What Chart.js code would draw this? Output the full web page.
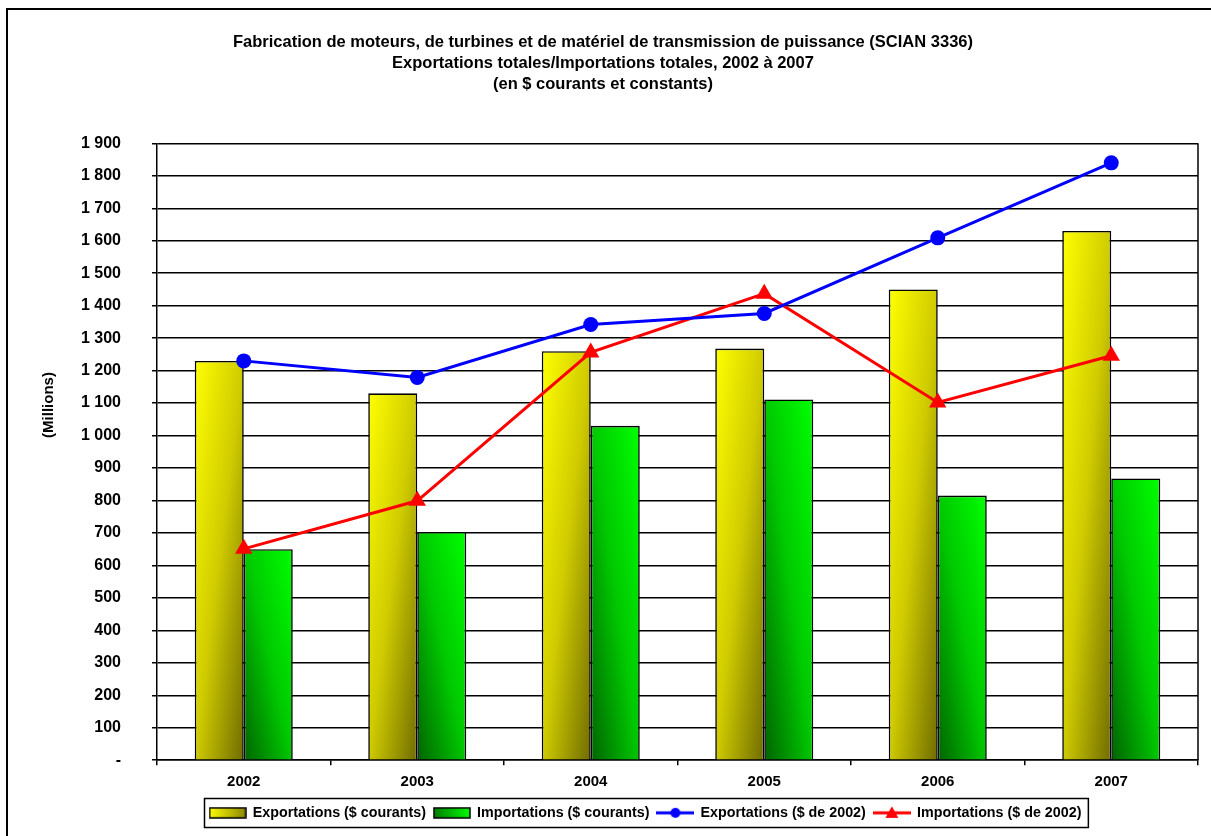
<!DOCTYPE html>
<html>
<head>
<meta charset="utf-8">
<script src="https://cdn.jsdelivr.net/npm/chart.js@4.4.1/dist/chart.umd.min.js"></script>
<style>
  html, body { margin: 0; padding: 0; background: #fff; }
  #wrap { width: 1211px; height: 836px; }
</style>
</head>
<body>
<div id="wrap"><canvas id="myChart" width="1211" height="836"></canvas></div>
<script>
// values (millions of dollars)
const years = ["2002", "2003", "2004", "2005", "2006", "2007"];
const exportsCurrent = [1230, 1130, 1260, 1268, 1450, 1630];
const importsCurrent = [650, 703, 1030, 1111, 815, 868];
const exportsConstant = [1230, 1179, 1342, 1376, 1609, 1840];
const importsConstant = [651, 799, 1256, 1437, 1102, 1246];

const seriesNames = [
  "Exportations ($ courants)",
  "Importations ($ courants)",
  "Exportations ($ de 2002)",
  "Importations ($ de 2002)"
];
const titleLines = [
  "Fabrication de moteurs, de turbines et de matériel de transmission de puissance (SCIAN 3336)",
  "Exportations totales/Importations totales, 2002 à 2007",
  "(en $ courants et constants)"
];
const yTitle = "(Millions)";
const yMax = 1900;
const yStep = 100;

const FONT = "'Liberation Sans', Arial, sans-serif";
const ctx = document.getElementById("myChart").getContext("2d");

// small canvases used as legend symbols
function barSwatch(c0, c1) {
  const c = document.createElement("canvas");
  c.width = 38; c.height = 12;
  const x = c.getContext("2d");
  const g = x.createLinearGradient(0, 0, 38, 0);
  g.addColorStop(0, c0);
  g.addColorStop(1, c1);
  x.fillStyle = g;
  x.fillRect(1, 1, 36, 10);
  x.strokeStyle = "#000";
  x.lineWidth = 1.5;
  x.strokeRect(1, 1, 36, 10);
  return c;
}
function lineSwatch(color, marker) {
  const c = document.createElement("canvas");
  c.width = 38; c.height = 14;
  const x = c.getContext("2d");
  x.strokeStyle = color;
  x.fillStyle = color;
  x.lineWidth = 3;
  x.beginPath(); x.moveTo(0, 7); x.lineTo(38, 7); x.stroke();
  x.beginPath();
  if (marker === "circle") {
    x.arc(19, 7, 5, 0, Math.PI * 2);
  } else {
    x.moveTo(19, 0.5); x.lineTo(25.5, 12); x.lineTo(12.5, 12); x.closePath();
  }
  x.fill();
  return c;
}
const swatches = [
  barSwatch("#ffff00", "#8a8600"),
  barSwatch("#007a00", "#00ff00"),
  lineSwatch("#0000ff", "circle"),
  lineSwatch("#ff0000", "triangle")
];

// Excel-like diagonal shading on each bar
const barShading = {
  id: "barShading",
  beforeDatasetsDraw(chart) {
    const c = chart.ctx;
    chart.data.datasets.forEach((ds, i) => {
      if (ds.type !== "bar") return;
      chart.getDatasetMeta(i).data.forEach(el => {
        const l = el.x - el.width / 2;
        const t = Math.min(el.y, el.base), b = Math.max(el.y, el.base);
        const w = el.width, h = Math.max(b - t, 1);
        const k = 2 / (1 / (w * w) + 1 / (h * h));
        let g;
        if (ds.shade === "down") g = c.createLinearGradient(l, t, l + k / w, t + k / h);
        else g = c.createLinearGradient(l, b, l + k / w, b - k / h);
        ds.stops.forEach(s => g.addColorStop(s[0], s[1]));
        el.options = Object.assign({}, el.options, { backgroundColor: g });
      });
    });
  }
};

// move the legend to where it sits in the original
const legendShift = {
  id: "legendShift",
  afterLayout(chart) {
    const lg = chart.legend;
    const dx = 645.5 - (lg.left + lg.right) / 2;
    lg.left += dx;
    lg.right += dx;
  }
};

// frame lines, legend box and vertical axis title
const decorations = {
  id: "decorations",
  afterDraw(chart) {
    const c = chart.ctx, a = chart.chartArea;
    c.save();
    c.strokeStyle = "#000";
    c.lineWidth = 1.5;
    c.beginPath();
    c.moveTo(Math.round(a.right), a.top);
    c.lineTo(Math.round(a.right), a.bottom);
    c.stroke();

    c.lineWidth = 2;
    c.strokeRect(7, 9, 1300, 900);

    const hb = chart.legend.legendHitBoxes;
    if (hb && hb.length) {
      const left = Math.min(...hb.map(h => h.left));
      const right = Math.max(...hb.map(h => h.left + h.width));
      const mid = hb[0].top + hb[0].height / 2;
      c.lineWidth = 1.5;
      c.strokeRect(Math.round(left) - 5.5, Math.round(mid) - 14.5, right - left + 12, 29);
    }

    c.translate(49, 405);
    c.rotate(-Math.PI / 2);
    c.fillStyle = "#000";
    c.font = "bold 15px " + FONT;
    c.textAlign = "center";
    c.textBaseline = "middle";
    c.fillText(yTitle, 0, 0);
    c.restore();
  }
};

function spaced(v) {
  if (v === 0) return "-";
  return String(v).replace(/\B(?=(\d{3})+(?!\d))/g, " ");
}

const chart = new Chart(ctx, {
  data: {
    labels: years,
    datasets: [
      {
        type: "bar",
        label: seriesNames[0],
        data: exportsCurrent,
        order: 1,
        shade: "down",
        stops: [[0, "#ffff00"], [0.5, "#cfcb00"], [1, "#706c00"]],
        backgroundColor: "#e0e000",
        borderColor: "#000",
        borderWidth: 1.6,
        categoryPercentage: 0.565,
        barPercentage: 1
      },
      {
        type: "bar",
        label: seriesNames[1],
        data: importsCurrent,
        order: 1,
        shade: "up",
        stops: [[0, "#006400"], [0.5, "#00c800"], [1, "#00ff00"]],
        backgroundColor: "#00c000",
        borderColor: "#000",
        borderWidth: 1.6,
        categoryPercentage: 0.565,
        barPercentage: 1
      },
      {
        type: "line",
        label: seriesNames[2],
        data: exportsConstant,
        order: 0,
        borderColor: "#0000ff",
        backgroundColor: "#0000ff",
        borderWidth: 3,
        pointStyle: "circle",
        pointRadius: 7.5,
        pointBorderWidth: 0,
        tension: 0
      },
      {
        type: "line",
        label: seriesNames[3],
        data: importsConstant,
        order: 0,
        borderColor: "#ff0000",
        backgroundColor: "#ff0000",
        borderWidth: 3,
        pointStyle: "triangle",
        pointRadius: 10,
        pointBorderWidth: 0,
        tension: 0
      }
    ]
  },
  options: {
    responsive: false,
    animation: false,
    devicePixelRatio: 1,
    layout: { padding: { left: 8, right: 13, top: 0, bottom: 6 } },
    scales: {
      x: {
        grid: { drawOnChartArea: false, color: "#000", lineWidth: 1.5, tickLength: 5, offset: true },
        border: { color: "#000", width: 1.5 },
        ticks: { color: "#000", padding: 8, font: { family: FONT, size: 15, weight: "bold" } },
        afterFit(scale) { scale.height = 37.5; }
      },
      y: {
        min: 0,
        max: yMax,
        grid: { color: "#000", lineWidth: 1.5, tickLength: 5 },
        border: { color: "#000", width: 1.5 },
        ticks: {
          stepSize: yStep,
          color: "#000",
          padding: 31,
          font: { family: FONT, size: 16, weight: "bold" },
          callback: v => spaced(v)
        },
        afterFit(scale) { scale.width = 149; }
      }
    },
    plugins: {
      tooltip: { enabled: false },
      title: {
        display: true,
        text: titleLines,
        color: "#000",
        font: { family: FONT, size: 16.5, weight: "bold", lineHeight: 1.28 },
        padding: { top: 32, bottom: 48 }
      },
      legend: {
        position: "bottom",
        labels: {
          usePointStyle: true,
          pointStyleWidth: 36,
          padding: 8,
          color: "#000",
          font: { family: FONT, size: 14.3, weight: "bold" },
          generateLabels: ch => ch.data.datasets.map((ds, i) => ({
            text: ds.label,
            pointStyle: swatches[i],
            datasetIndex: i,
            hidden: false,
            lineWidth: 0,
            fontColor: "#000"
          }))
        }
      }
    }
  },
  plugins: [barShading, legendShift, decorations]
});
</script>
</body>
</html>
